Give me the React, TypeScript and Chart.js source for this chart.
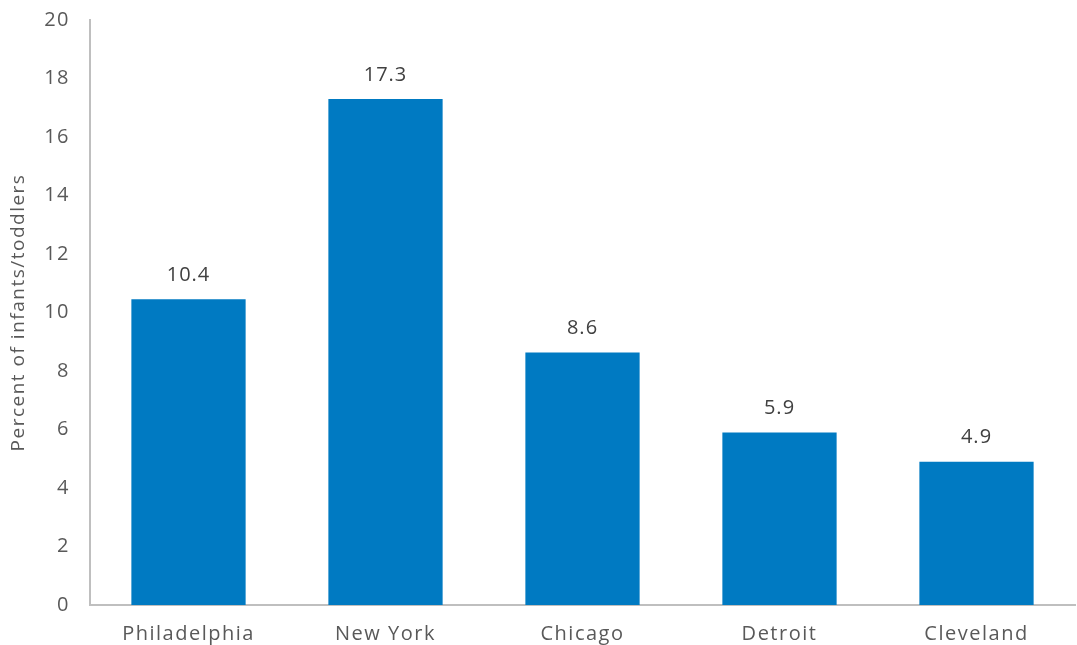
import React, { useEffect, useRef } from "react";
import { Chart, registerables } from "chart.js";

Chart.register(...registerables);

const categories = ["Philadelphia", "New York", "Chicago", "Detroit", "Cleveland"];
const values = [10.45, 17.3, 8.63, 5.9, 4.9];
const yTicks = [0, 2, 4, 6, 8, 10, 12, 14, 16, 18, 20];
const yTitle = "Percent of infants/toddlers";

const FONT = "'Open Sans', sans-serif";

const spacing = {
  id: "spacing",
  beforeDraw(chart: any) {
    chart.ctx.letterSpacing = "1.5px";
  },
};

const valueLabels = {
  id: "valueLabels",
  afterDatasetsDraw(chart: any) {
    const ctx = chart.ctx;
    const meta = chart.getDatasetMeta(0);
    ctx.save();
    ctx.letterSpacing = "1px";
    ctx.fillStyle = "#404040";
    ctx.font = `20px ${FONT}`;
    ctx.textAlign = "center";
    ctx.textBaseline = "middle";
    meta.data.forEach((bar: any, i: number) => {
      ctx.fillText(values[i].toFixed(1), bar.x, bar.y - 24);
    });
    ctx.restore();
  },
};

export default function App() {
  const ref = useRef<HTMLCanvasElement>(null);
  useEffect(() => {
    if (!ref.current) return;
    const chart = new Chart(ref.current, {
      type: "bar",
      data: {
        labels: categories,
        datasets: [
          {
            data: values,
            backgroundColor: "#007AC2",
            borderWidth: 0,
            barPercentage: 0.58,
            categoryPercentage: 1,
          },
        ],
      },
      options: {
        animation: false,
        responsive: true,
        maintainAspectRatio: false,
        layout: { padding: { top: 20, right: 2, left: 0, bottom: 0 } },
        plugins: { legend: { display: false }, tooltip: { enabled: false } },
        scales: {
          x: {
            grid: { display: false, drawTicks: true, tickLength: 17 },
            border: { color: "#BFBFBF", width: 2 },
            ticks: { color: "#595959", font: { family: FONT, size: 20 }, padding: 0 },
            afterFit: (s: any) => {
              s.height = 40;
            },
          },
          y: {
            min: 0,
            max: 20,
            afterBuildTicks: (s: any) => {
              s.ticks = yTicks.map((v) => ({ value: v }));
            },
            grid: { display: false, drawTicks: true, tickLength: 20 },
            border: { color: "#BFBFBF", width: 2 },
            ticks: { color: "#595959", font: { family: FONT, size: 20 }, padding: 0 },
            title: {
              display: true,
              text: yTitle,
              color: "#595959",
              font: { family: FONT, size: 19 },
              padding: { top: 7, bottom: 0 },
            },
            afterFit: (s: any) => {
              s.width = 90;
            },
          },
        },
      },
      plugins: [spacing, valueLabels],
    });
    return () => chart.destroy();
  }, []);
  return (
    <div style={{ position: "fixed", left: 0, top: 0, width: 1077, height: 645, background: "#fff" }}>
      <canvas ref={ref} />
    </div>
  );
}
